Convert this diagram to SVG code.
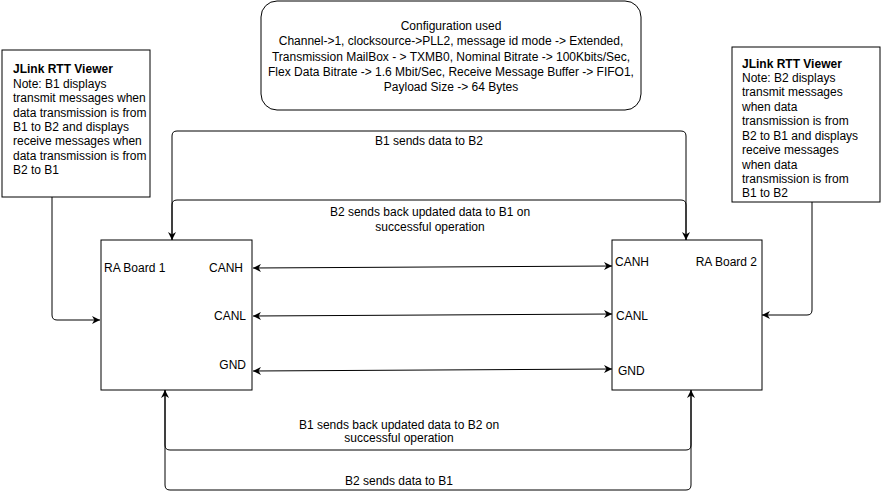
<svg xmlns="http://www.w3.org/2000/svg" width="882" height="500" viewBox="0 0 882 500">
<defs>
<style>
.box{fill:#fff;stroke:#000;stroke-width:1}
.ln{fill:none;stroke:#000;stroke-width:1}
text{font-family:"Liberation Sans",Arial,sans-serif;font-size:12px;fill:#000}
.c{text-anchor:middle}
.e{text-anchor:end}
.b{font-weight:bold}
</style>
<marker id="ah" viewBox="0 0 10 10" refX="10" refY="5" markerWidth="8" markerHeight="8" markerUnits="userSpaceOnUse" orient="auto-start-reverse">
<path d="M0,0 L10,5 L0,10 L3,5 z" fill="#000"/>
</marker>
</defs>
<rect width="882" height="500" fill="#fff"/>

<g id="connectors">
<path class="ln" d="M52,197 V315 Q52,320 57,320 H100" marker-end="url(#ah)"/>
<path class="ln" d="M812,202 V310 Q812,315 807,315 H762" marker-end="url(#ah)"/>
<path class="ln" d="M172,240 V136 Q172,131 177,131 H681 Q686,131 686,136 V240" marker-end="url(#ah)"/>
<path class="ln" d="M686,240 V205 Q686,200 681,200 H177 Q172,200 172,205 V240" marker-end="url(#ah)"/>
<path class="ln" d="M165,390 V445 Q165,450 170,450 H686 Q691,450 691,445 V390" marker-end="url(#ah)"/>
<path class="ln" d="M691,390 V485 Q691,490 686,490 H170 Q165,490 165,485 V390" marker-end="url(#ah)"/>
<line class="ln" x1="253" y1="268" x2="612" y2="266" marker-start="url(#ah)" marker-end="url(#ah)"/>
<line class="ln" x1="253" y1="316" x2="612" y2="314" marker-start="url(#ah)" marker-end="url(#ah)"/>
<line class="ln" x1="253" y1="371" x2="612" y2="369" marker-start="url(#ah)" marker-end="url(#ah)"/>
<text class="c" x="429" y="145">B1 sends data to B2</text>
<text class="c" x="430" y="216">B2 sends back updated data to B1 on</text>
<text class="c" x="430" y="231">successful operation</text>
<text class="c" x="399" y="429">B1 sends back updated data to B2 on</text>
<text class="c" x="399" y="442">successful operation</text>
<text class="c" x="399" y="485">B2 sends data to B1</text>
</g>

<g id="config">
<rect class="box" x="261" y="1" width="380" height="109" rx="16" ry="16"/>
<text class="c" x="451" y="30">Configuration used</text>
<text class="c" x="451" y="45">Channel-&gt;1, clocksource-&gt;PLL2, message id mode -&gt; Extended,</text>
<text class="c" x="451" y="61">Transmission MailBox - &gt; TXMB0, Nominal Bitrate -&gt; 100Kbits/Sec,</text>
<text class="c" x="451" y="76">Flex Data Bitrate -&gt; 1.6 Mbit/Sec, Receive Message Buffer -&gt; FIFO1,</text>
<text class="c" x="451" y="91">Payload Size -&gt; 64 Bytes</text>
</g>

<g id="note1">
<rect class="box" x="2" y="50" width="148" height="147"/>
<text x="13" y="73" class="b">JLink RTT Viewer</text>
<text x="13" y="88">Note: B1 displays</text>
<text x="13" y="102">transmit messages when</text>
<text x="13" y="117">data transmission is from</text>
<text x="13" y="131">B1 to B2 and displays</text>
<text x="13" y="145">receive messages when</text>
<text x="13" y="160">data transmission is from</text>
<text x="13" y="174">B2 to B1</text>
</g>

<g id="note2">
<rect class="box" x="732" y="47" width="148" height="155"/>
<text x="742" y="68" class="b">JLink RTT Viewer</text>
<text x="742" y="82">Note: B2 displays</text>
<text x="742" y="96">transmit messages</text>
<text x="742" y="111">when data</text>
<text x="742" y="125">transmission is from</text>
<text x="742" y="140">B2 to B1 and displays</text>
<text x="742" y="154">receive messages</text>
<text x="742" y="169">when data</text>
<text x="742" y="183">transmission is from</text>
<text x="742" y="197">B1 to B2</text>
</g>

<g id="board1">
<rect class="box" x="101" y="240" width="151" height="150"/>
<text x="104" y="272">RA Board 1</text>
<text x="243" y="272" class="e">CANH</text>
<text x="246" y="320" class="e">CANL</text>
<text x="246" y="369" class="e">GND</text>
</g>

<g id="board2">
<rect class="box" x="612" y="240" width="150" height="150"/>
<text x="615" y="266">CANH</text>
<text x="757" y="266" class="e">RA Board 2</text>
<text x="616" y="320">CANL</text>
<text x="618" y="375">GND</text>
</g>
</svg>
